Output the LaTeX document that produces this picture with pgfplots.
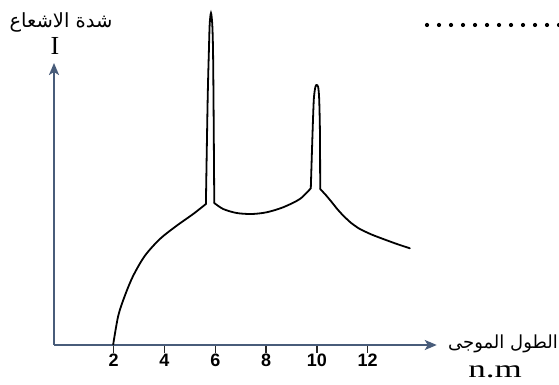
\documentclass[border=0pt]{standalone}
\usepackage{pgfplots}
\pgfplotsset{compat=1.18}
\usepackage{fontspec}
\setmainfont{Liberation Serif}
\newfontfamily\arial{Liberation Sans}
\newfontfamily\arabicfont[Script=Arabic]{DejaVu Sans}
\TeXXeTstate=1
\usetikzlibrary{arrows.meta}
\definecolor{axc}{RGB}{72,92,122}
\begin{document}
\begin{tikzpicture}
\useasboundingbox (-54pt,-40pt) rectangle (505pt,345pt);
\begin{axis}[
  x=25.4pt, y=10pt,
  xmin=-0.35, xmax=14.72, ymin=0, ymax=28.2,
  axis lines=left,
  axis line style={axc, line width=2pt, -{Stealth[length=12pt,width=10pt,inset=3pt]}},
  xtick={2,4,6,8,10,12}, ytick=\empty,
  tick align=outside, major tick length=8pt,
  xtick style={black!85, line width=1.5pt},
  xticklabel style={font=\arial\bfseries\fontsize{18}{18}\selectfont, inner sep=0pt, yshift=-1pt},
  /pgf/number format/assume math mode=true,
  clip=false,
]
% rising part
\addplot[black, line width=1.8pt, smooth, line cap=round] coordinates {
 (1.98,0.05) (2.18,2.93) (2.44,4.93) (2.77,6.93) (3.23,8.93) (3.82,10.6) (4.48,11.93) (5.13,13.1) (5.63,14.1)};
% first peak
\addplot[black, line width=1.8pt, smooth, line cap=round, tension=0.5] coordinates {
 (5.63,14.1) (5.70,24.6) (5.75,29.6) (5.78,32.1) (5.83,33.2) (5.88,32.1) (5.91,29.6) (5.93,24.6) (5.96,14.2)};
% dip
\addplot[black, line width=1.8pt, smooth, line cap=round] coordinates {
 (5.96,14.2) (6.31,13.6) (6.84,13.2) (7.43,13.1) (8.02,13.27) (8.67,13.77) (9.33,14.6) (9.76,15.67)};
% second peak
\addplot[black, line width=1.8pt, smooth, line cap=round, tension=0.5] coordinates {
 (9.76,15.67) (9.83,21.3) (9.88,24.6) (9.94,25.8) (9.99,26.0) (10.05,25.8) (10.09,24.6) (10.12,21.3) (10.13,15.6)};
% tail
\addplot[black, line width=1.8pt, smooth, line cap=round, tension=0.35] coordinates {
 (10.13,15.6) (10.35,15.0) (10.58,14.3) (10.80,13.6) (11.04,12.93) (11.35,12.2) (11.69,11.6) (12.15,11.05) (12.61,10.6) (13.15,10.1) (13.66,9.67)};
\end{axis}
\node[font=\arabicfont\fontsize{19.5}{19.5}\selectfont] at (7pt,323pt) {\beginR شدة الاشعاع\endR};
\node[font=\fontsize{26}{26}\selectfont] at (1pt,299pt) {I};
\node[font=\arabicfont\fontsize{18}{18}\selectfont] at (449pt,1pt) {\beginR الطول الموجى\endR};
\node[font=\fontsize{25}{25}\selectfont, xscale=1.4] at (441pt,-27pt) {n.m};
\draw[line width=4.2pt, line cap=round, dash pattern=on 0pt off 12pt] (373pt,320pt) -- (512pt,320pt);
\end{tikzpicture}
\end{document}
